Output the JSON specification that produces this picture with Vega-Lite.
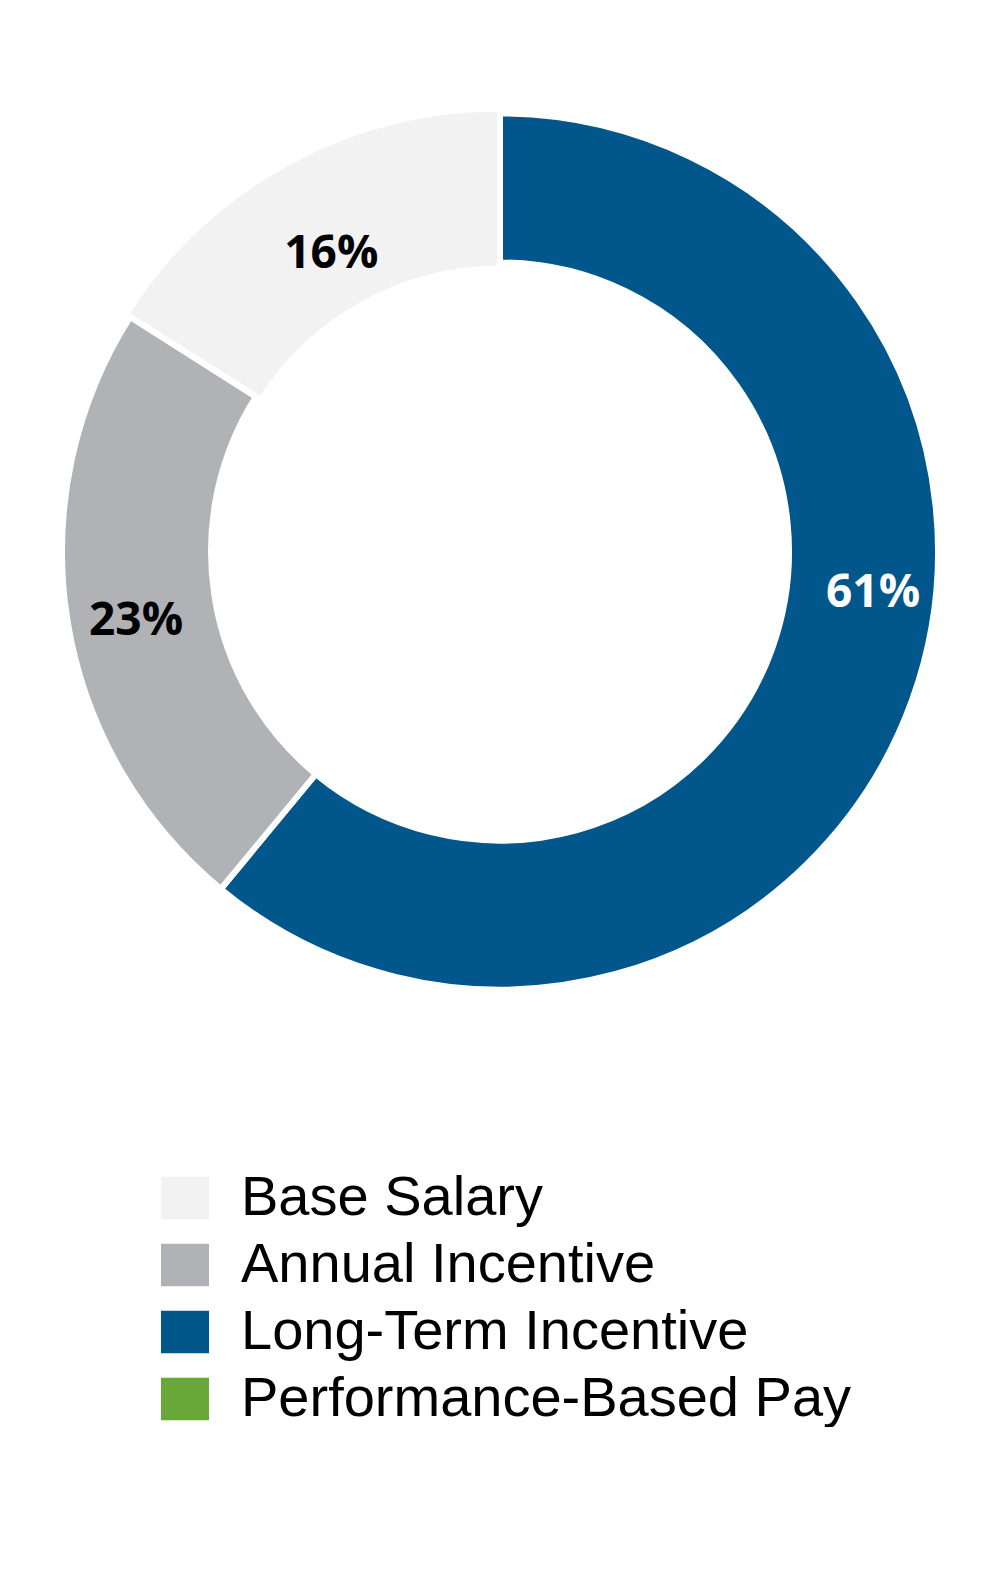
{
  "$schema": "https://vega.github.io/schema/vega-lite/v6.json",
  "width": 1000,
  "height": 1103,
  "padding": 0,
  "background": "white",
  "config": {"view": {"stroke": null}},
  "data": {
    "values": [
      {"category": "Long-Term Incentive", "value": 61, "label": "61%"},
      {"category": "Annual Incentive", "value": 23, "label": "23%"},
      {"category": "Base Salary", "value": 16, "label": "16%"}
    ]
  },
  "encoding": {
    "theta": {"field": "value", "type": "quantitative", "stack": true},
    "order": {"field": "value", "type": "quantitative", "sort": "descending"},
    "color": {
      "field": "category",
      "type": "nominal",
      "scale": {
        "domain": ["Base Salary", "Annual Incentive", "Long-Term Incentive", "Performance-Based Pay"],
        "range": ["#f2f2f2", "#b1b2b5", "#01568b", "#6aa739"]
      },
      "legend": {
        "title": null,
        "orient": "none",
        "legendX": 157,
        "legendY": 1170,
        "padding": 0,
        "symbolType": "M-1,-0.89H1V0.89H-1Z",
        "symbolSize": 2304,
        "symbolStrokeWidth": 0,
        "symbolOpacity": 1,
        "labelFont": "Liberation Sans",
        "labelFontSize": 56,
        "labelColor": "black",
        "labelOffset": 28,
        "labelLimit": 900,
        "rowPadding": 11,
        "encode": {
          "symbols": {
            "update": {
              "size": {"signal": "datum.index === 0 ? 3364 : 2304"}
            }
          }
        }
      }
    }
  },
  "layer": [
    {
      "mark": {"type": "arc", "radius": 438, "radius2": 289, "stroke": "white", "strokeWidth": 6}
    },
    {
      "mark": {"type": "arc", "radius": 443, "radius2": 283, "stroke": "white", "strokeWidth": 6},
      "encoding": {
        "opacity": {"condition": {"test": "datum.category === 'Base Salary'", "value": 1}, "value": 0}
      }
    },
    {
      "mark": {"type": "text", "radius": 375, "thetaOffset": -0.244, "dy": 3, "font": "Open Sans", "fontWeight": "bold", "fontSize": 46, "align": "center", "baseline": "middle"},
      "encoding": {
        "text": {"field": "label"},
        "color": {"value": "white"},
        "opacity": {"condition": {"test": "datum.category === 'Long-Term Incentive'", "value": 1}, "value": 0}
      }
    },
    {
      "mark": {"type": "text", "radius": 370, "thetaOffset": -0.024, "dy": 3, "font": "Open Sans", "fontWeight": "bold", "fontSize": 46, "align": "center", "baseline": "middle"},
      "encoding": {
        "text": {"field": "label"},
        "color": {"value": "black"},
        "opacity": {"condition": {"test": "datum.category === 'Annual Incentive'", "value": 1}, "value": 0}
      }
    },
    {
      "mark": {"type": "text", "radius": 346, "dy": 6, "dx": -2, "font": "Open Sans", "fontWeight": "bold", "fontSize": 46, "align": "center", "baseline": "middle"},
      "encoding": {
        "text": {"field": "label"},
        "color": {"value": "black"},
        "opacity": {"condition": {"test": "datum.category === 'Base Salary'", "value": 1}, "value": 0}
      }
    }
  ]
}
